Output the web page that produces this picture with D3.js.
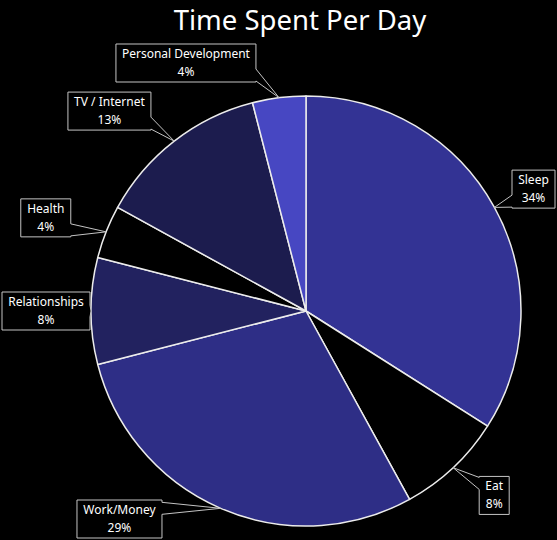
<!DOCTYPE html>
<html>
<head>
<meta charset="utf-8">
<script src="https://cdn.jsdelivr.net/npm/d3@7"></script>
<style>
  html, body { margin: 0; padding: 0; background: #000; }
  svg { display: block; }
</style>
</head>
<body>
<svg id="chart" width="557" height="540"></svg>
<script>
// Daily time budget, shown as a share of the day
const categories = ["Sleep", "Eat", "Work/Money", "Relationships", "Health", "TV / Internet", "Personal Development"];
const shares = [34, 8, 29, 8, 4, 13, 4];
const sliceColors = ["#333394", "#000000", "#2e2e86", "#22225f", "#000000", "#1c1c4e", "#4747c2"];
const chartTitle = "Time Spent Per Day";

const W = 557, H = 540;
const cx = 306, cy = 311, radius = 215;
const labelRadius = radius + 38;
const boxH = 38, padX = 6, notch = 6;

const svg = d3.select("#chart");
svg.append("rect").attr("width", W).attr("height", H).attr("fill", "#000");

svg.append("text")
  .attr("x", 300).attr("y", 30)
  .attr("text-anchor", "middle")
  .attr("fill", "#fff")
  .style("font-family", "'Noto Sans', sans-serif")
  .style("font-size", "27.5px")
  .text(chartTitle);

const pie = d3.pie().sort(null).value(d => d);
const arcs = pie(shares);
const arc = d3.arc().innerRadius(0).outerRadius(radius);
const rim = d3.arc().innerRadius(radius).outerRadius(radius);

const g = svg.append("g").attr("transform", `translate(${cx},${cy})`);
g.selectAll("path.slice")
  .data(arcs)
  .join("path")
  .attr("class", "slice")
  .attr("d", arc)
  .attr("fill", (d, i) => sliceColors[i])
  .attr("stroke", "#ececec")
  .attr("stroke-width", 1.5)
  .attr("stroke-linejoin", "round");

// Label layout: measure, place around the pie, then keep boxes apart on each side
const labelLayer = svg.append("g");
const measure = svg.append("text")
  .style("font-family", "'Noto Sans', sans-serif")
  .style("font-size", "12px");

const labels = arcs.map((d, i) => {
  const mid = (d.startAngle + d.endAngle) / 2;
  const [ax, ay] = rim.centroid(d);
  measure.text(categories[i]);
  const w1 = measure.node().getComputedTextLength();
  measure.text(shares[i] + "%");
  const w2 = measure.node().getComputedTextLength();
  return {
    i,
    side: Math.sin(mid) >= 0 ? "right" : "left",
    ax: cx + ax, ay: cy + ay,
    y: cy - labelRadius * Math.cos(mid),
    w: Math.ceil(Math.max(w1, w2)) + padX * 2
  };
});
measure.remove();

const topLimit = 44, bottomLimit = H - 2, gap = 4;
["left", "right"].forEach(side => {
  const list = labels.filter(l => l.side === side).sort((a, b) => a.y - b.y);
  let prev = -Infinity;
  list.forEach(l => {
    l.y = Math.max(l.y, topLimit + boxH / 2, prev + boxH + gap);
    prev = l.y;
  });
  let next = Infinity;
  for (let k = list.length - 1; k >= 0; k--) {
    const l = list[k];
    l.y = Math.min(l.y, bottomLimit - boxH / 2, next - boxH - gap);
    next = l.y;
  }
  list.forEach(l => {
    const dy = l.y - cy;
    const dx = Math.sqrt(Math.max(0, labelRadius * labelRadius - dy * dy));
    if (side === "right") {
      l.x = Math.min(cx + dx, W - 2 - l.w);
    } else {
      l.x = Math.max(cx - dx - l.w, 2);
    }
    l.top = l.y - boxH / 2;
  });
});

const clamp = (v, a, b) => Math.max(a, Math.min(b, v));

// Box outline with a pointer toward the slice it names
function callout(x, y, w, h, ax, ay) {
  const out = { top: y - ay, right: ax - (x + w), bottom: ay - (y + h), left: x - ax };
  let side = null, best = 0;
  for (const k of Object.keys(out)) {
    if (out[k] > best) { best = out[k]; side = k; }
  }
  const nx = clamp(ax, x + notch + 1, x + w - notch - 1);
  const ny = clamp(ay, y + notch + 1, y + h - notch - 1);
  const p = d3.path();
  p.moveTo(x, y);
  if (side === "top") { p.lineTo(nx - notch, y); p.lineTo(ax, ay); p.lineTo(nx + notch, y); }
  p.lineTo(x + w, y);
  if (side === "right") { p.lineTo(x + w, ny - notch); p.lineTo(ax, ay); p.lineTo(x + w, ny + notch); }
  p.lineTo(x + w, y + h);
  if (side === "bottom") { p.lineTo(nx + notch, y + h); p.lineTo(ax, ay); p.lineTo(nx - notch, y + h); }
  p.lineTo(x, y + h);
  if (side === "left") { p.lineTo(x, ny + notch); p.lineTo(ax, ay); p.lineTo(x, ny - notch); }
  p.closePath();
  return p.toString();
}

const lg = labelLayer.selectAll("g.label")
  .data(labels)
  .join("g")
  .attr("class", "label");

lg.append("path")
  .attr("d", l => callout(l.x, l.top, l.w, boxH, l.ax, l.ay))
  .attr("fill", "#000")
  .attr("stroke", "#c4c4c4")
  .attr("stroke-width", 1)
  .attr("stroke-linejoin", "miter");

const txt = lg.append("text")
  .attr("text-anchor", "middle")
  .attr("fill", "#fff")
  .style("font-family", "'Noto Sans', sans-serif")
  .style("font-size", "12px");
txt.append("tspan")
  .attr("x", l => l.x + l.w / 2)
  .attr("y", l => l.top + 14)
  .text(l => categories[l.i]);
txt.append("tspan")
  .attr("x", l => l.x + l.w / 2)
  .attr("y", l => l.top + 32)
  .text(l => shares[l.i] + "%");
</script>
</body>
</html>
